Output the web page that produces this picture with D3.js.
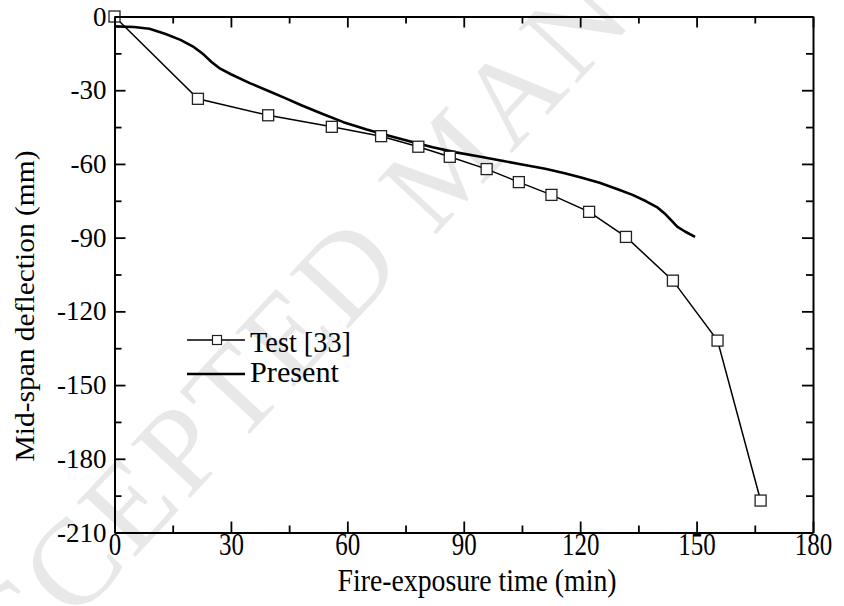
<!DOCTYPE html>
<html>
<head>
<meta charset="utf-8">
<script src="https://cdn.jsdelivr.net/npm/d3@7"></script>
<style>
  body { margin: 0; background: #fff; }
  svg { display: block; }
  svg text { font-family: "Liberation Serif", "Times New Roman", serif; }
</style>
</head>
<body>
<svg id="chart" width="844" height="606"></svg>
<script>
'use strict'

// Test [33] (markers)
const testTime = [0, 21.5, 39.6, 56, 68.7, 78.3, 86.4, 95.9, 104.2, 112.6, 122.3, 131.8, 143.9, 155.4, 166.5]
const testDefl = [0, -33.5, -40.2, -44.9, -48.7, -53, -57.1, -62.1, -67.4, -72.6, -79.5, -89.7, -107.5, -131.9, -197]

// Present (solid line)
const presentTime = [0, 5, 9, 13, 17, 20.5, 23, 25, 27, 30, 35, 40, 44, 48, 53.5, 59, 65, 70, 76, 82, 88, 94, 99.5,
                     105, 111, 116, 120, 125, 130, 133.5, 137, 140, 142, 143.5, 145, 147, 149.6]
const presentDefl = [-4, -4.3, -5, -7, -9.5, -12.5, -15.5, -18.5, -21, -23.5, -27.2, -30.5, -33.2, -36, -39.6, -43, -46, -48.2, -50.8, -53.2, -55.3, -57, -58.6,
                     -60.2, -62, -63.8, -65.4, -67.7, -70.5, -72.6, -75.2, -77.8, -80.5, -83, -85.5, -87.5, -89.7]

const xMajor = [0, 30, 60, 90, 120, 150, 180]
const yMajor = [0, -30, -60, -90, -120, -150, -180, -210]
const legendNames = ['Test [33]', 'Present']

const svg = d3.select('#chart')
const m = {left: 114.5, right: 813, top: 16.5, bottom: 532.5}

const x = d3.scaleLinear().domain([0, 180]).range([m.left, m.right])
const y = d3.scaleLinear().domain([-210, 0]).range([m.bottom, m.top])

// watermark behind everything
svg.append('text')
  .attr('transform', 'translate(445,162) rotate(-47)')
  .attr('text-anchor', 'middle')
  .attr('dy', '0.35em')
  .attr('font-size', 122)
  .attr('textLength', 1540)
  .attr('lengthAdjust', 'spacing')
  .attr('fill', '#e8e8e8')
  .text('ACCEPTED MANUSCRIPT')

const testData = testTime.map((t, i) => ({t: t, v: testDefl[i]}))
const presentData = presentTime.map((t, i) => ({t: t, v: presentDefl[i]}))

const line = d3.line().x(d => x(d.t)).y(d => y(d.v))

svg.append('path').datum(presentData)
  .attr('d', line).attr('fill', 'none').attr('stroke', '#000')
  .attr('stroke-width', 2.6).attr('stroke-linejoin', 'round')

svg.append('path').datum(testData)
  .attr('d', line).attr('fill', 'none').attr('stroke', '#000')
  .attr('stroke-width', 1.5)

svg.append('g').selectAll('rect').data(testData).enter().append('rect')
  .attr('x', d => x(d.t) - 5.5).attr('y', d => y(d.v) - 5.5)
  .attr('width', 11).attr('height', 11)
  .attr('fill', '#fff').attr('stroke', '#222').attr('stroke-width', 1.3)

// axes, ticks pointing inward
const xMinor = d3.range(15, 180, 30)
const yMinor = d3.range(-195, 0, 30)
const fmt = d => String(d)

function styleAxis(g){
  g.attr('font-family', null)
  g.select('.domain').attr('stroke-width', 2)
  g.selectAll('.tick line').attr('stroke-width', 1.8)
}

const axBottom = svg.append('g').attr('transform', `translate(0,${m.bottom})`)
  .call(d3.axisBottom(x).tickValues(xMajor).tickFormat(fmt).tickSize(-11).tickSizeOuter(0).tickPadding(0))
axBottom.append('g').call(d3.axisBottom(x).tickValues(xMinor).tickSize(-7).tickSizeOuter(0).tickFormat(''))
axBottom.call(styleAxis)
axBottom.selectAll('text').attr('font-size', 25).attr('fill', '#000')
  .attr('dy', null).attr('y', 22.5 / 1.3)
  .attr('transform', 'scale(1,1.3)')

const axTop = svg.append('g').attr('transform', `translate(0,${m.top})`)
  .call(d3.axisTop(x).tickValues(xMajor).tickSize(-11).tickSizeOuter(0).tickFormat(''))
axTop.append('g').call(d3.axisTop(x).tickValues(xMinor).tickSize(-7).tickSizeOuter(0).tickFormat(''))
axTop.call(styleAxis)

const axLeft = svg.append('g').attr('transform', `translate(${m.left},0)`)
  .call(d3.axisLeft(y).tickValues(yMajor).tickFormat(fmt).tickSize(-11).tickSizeOuter(0).tickPadding(8))
axLeft.append('g').call(d3.axisLeft(y).tickValues(yMinor).tickSize(-7).tickSizeOuter(0).tickFormat(''))
axLeft.call(styleAxis)
axLeft.selectAll('text').attr('font-size', 27).attr('fill', '#000')

const axRight = svg.append('g').attr('transform', `translate(${m.right},0)`)
  .call(d3.axisRight(y).tickValues(yMajor).tickSize(-11).tickSizeOuter(0).tickFormat(''))
axRight.append('g').call(d3.axisRight(y).tickValues(yMinor).tickSize(-7).tickSizeOuter(0).tickFormat(''))
axRight.call(styleAxis)

// axis titles
svg.append('text')
  .attr('transform', 'translate(477,591) scale(1,1.2)')
  .attr('text-anchor', 'middle').attr('font-size', 27)
  .attr('textLength', 279).attr('lengthAdjust', 'spacingAndGlyphs')
  .text('Fire-exposure time (min)')

svg.append('text')
  .attr('transform', 'translate(34,306) rotate(-90)')
  .attr('text-anchor', 'middle').attr('font-size', 27)
  .attr('textLength', 311).attr('lengthAdjust', 'spacingAndGlyphs')
  .text('Mid-span deflection (mm)')

// legend
const legend = svg.append('g').attr('transform', 'translate(187,340)')
legend.append('line').attr('x1', 0).attr('x2', 58).attr('y1', 0).attr('y2', 0)
  .attr('stroke', '#000').attr('stroke-width', 1.5)
legend.append('rect').attr('x', 30 - 4.5).attr('y', -4.5).attr('width', 9).attr('height', 9)
  .attr('fill', '#fff').attr('stroke', '#222').attr('stroke-width', 1.2)
legend.append('line').attr('x1', 0).attr('x2', 58).attr('y1', 34).attr('y2', 34)
  .attr('stroke', '#000').attr('stroke-width', 2.6)
legend.selectAll('.lbl').data(legendNames).enter().append('text')
  .attr('class', 'lbl')
  .attr('transform', (d, i) => `translate(63,${11.5 + i * 30}) scale(1,1.12)`)
  .attr('font-size', 26)
  .attr('textLength', (d, i) => i === 0 ? 101 : 89)
  .attr('lengthAdjust', 'spacingAndGlyphs')
  .text(d => d)
</script>
</body>
</html>
